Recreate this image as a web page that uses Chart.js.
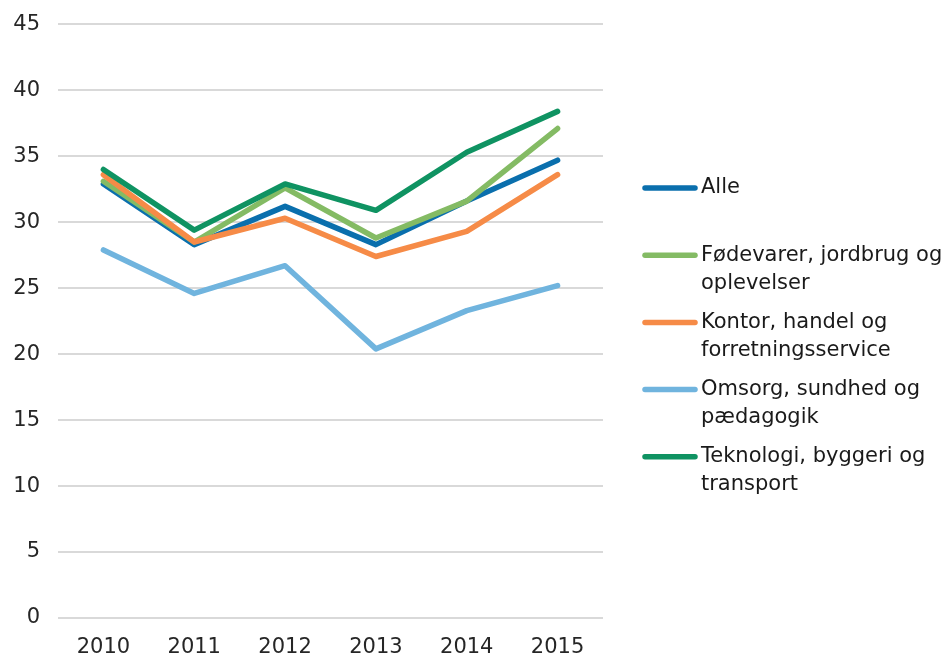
<!DOCTYPE html>
<html>
<head>
<meta charset="utf-8">
<script src="https://cdn.jsdelivr.net/npm/chart.js@4"></script>
<style>
  html, body { margin: 0; padding: 0; background: #fff; }
  #wrap { width: 951px; height: 657px; }
</style>
</head>
<body>
<div id="wrap"><canvas id="chart" width="951" height="657"></canvas></div>
<script>
const years = ['2010', '2011', '2012', '2013', '2014', '2015'];

const alle = [32.9, 28.3, 31.2, 28.3, 31.6, 34.7];
const foedevarer = [33.1, 28.5, 32.6, 28.8, 31.6, 37.1];
const kontor = [33.6, 28.5, 30.3, 27.4, 29.3, 33.6];
const omsorg = [27.9, 24.6, 26.7, 20.4, 23.3, 25.2];
const teknologi = [34.0, 29.4, 32.9, 30.9, 35.3, 38.4];

const seriesNames = [
  ['Alle'],
  ['Fødevarer, jordbrug og', 'oplevelser'],
  ['Kontor, handel og', 'forretningsservice'],
  ['Omsorg, sundhed og', 'pædagogik'],
  ['Teknologi, byggeri og', 'transport'],
];
const colors = ['#0a6fad', '#84bb64', '#f68b47', '#70b4de', '#0f9362'];

const font = '"DejaVu Sans", Verdana, sans-serif';

// legend on the right, with wrapped labels
const sideLegend = {
  id: 'sideLegend',
  afterDraw(chart) {
    const ctx = chart.ctx;
    ctx.save();
    ctx.font = '21px ' + font;
    ctx.textBaseline = 'middle';
    ctx.fillStyle = '#1a1a1a';
    chart.data.datasets.forEach((ds, i) => {
      const y = 188 + i * 67.2;
      ctx.strokeStyle = ds.borderColor;
      ctx.lineWidth = 5.5;
      ctx.lineCap = 'round';
      ctx.beginPath();
      ctx.moveTo(645, y);
      ctx.lineTo(695, y);
      ctx.stroke();
      ds.label.forEach((line, j) => {
        ctx.fillText(line, 701, y + j * 28);
      });
    });
    ctx.restore();
  },
};

const datasets = [alle, foedevarer, kontor, omsorg, teknologi].map((d, i) => ({
  label: seriesNames[i],
  data: d,
  borderColor: colors[i],
  backgroundColor: colors[i],
  borderWidth: 5.5,
  borderCapStyle: 'round',
  borderJoinStyle: 'round',
  pointRadius: 0,
  tension: 0,
  order: [5, 4, 3, 2, 1][i],
}));

new Chart(document.getElementById('chart'), {
  type: 'line',
  data: { labels: years, datasets: datasets },
  plugins: [sideLegend],
  options: {
    responsive: false,
    animation: false,
    layout: { padding: { top: 9, right: 348, left: 0, bottom: 0 } },
    plugins: {
      legend: { display: false },
      tooltip: { enabled: false },
    },
    scales: {
      x: {
        offset: true,
        grid: { display: false, drawTicks: false },
        border: { display: false },
        ticks: { color: '#262626', font: { family: font, size: 21 }, padding: 17 },
        afterFit(s) { s.height = 39; },
      },
      y: {
        min: 0,
        max: 45,
        ticks: { stepSize: 5, color: '#262626', font: { family: font, size: 21, lineHeight: 0.6 }, padding: 18 },
        grid: { color: '#d9d9d9', lineWidth: 2, drawTicks: false },
        border: { display: false },
        afterFit(s) { s.width = 58; },
      },
    },
  },
});
</script>
</body>
</html>
